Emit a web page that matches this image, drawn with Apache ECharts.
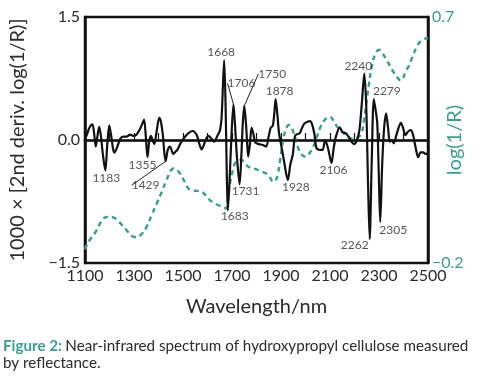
<!DOCTYPE html>
<html>
<head>
<meta charset="utf-8">
<script src="https://cdn.jsdelivr.net/npm/echarts@6/dist/echarts.min.js"></script>
<style>
html,body{margin:0;padding:0;background:#fff;}
#chart{width:482px;height:377px;}
</style>
</head>
<body>
<div id="chart"></div>
<script>
// ---- data ----
const derivWl = [1100,1107,1118,1130,1138,1144,1151,1158,1165,1172,1183,1191,1199,1207,1214,1220,1232,1245,1258,1270,1284,1296,1308,1322,1334,1341,1348,1355,1362,1369,1376,1383,1392,1403,1410,1417,1429,1438,1447,1453,1460,1470,1477,1490,1508,1525,1540,1556,1566,1576,1590,1603,1615,1627,1640,1651,1658,1668,1674,1678,1683,1690,1697,1706,1712,1720,1731,1738,1744,1750,1757,1762,1766,1773,1780,1787,1795,1810,1825,1839,1850,1858,1866,1872,1878,1884,1892,1900,1912,1928,1938,1948,1957,1965,1976,1986,1995,2006,2018,2026,2036,2045,2058,2070,2080,2092,2106,2115,2125,2140,2150,2165,2178,2190,2198,2210,2220,2230,2240,2248,2255,2262,2270,2279,2287,2293,2299,2305,2313,2321,2329,2337,2344,2352,2360,2370,2380,2389,2398,2408,2418,2430,2440,2450,2460,2470,2480,2490,2500];
const derivVal = [0.02,0.06,0.15,0.19,0.06,-0.08,0.05,0.16,0.05,-0.15,-0.37,-0.05,0.18,0.05,-0.1,-0.155,-0.08,0.02,0.04,0.04,0.065,0.05,0.06,0.12,0.2,0.25,0.05,-0.21,-0.02,0.05,0.0,-0.05,0.1,0.27,0.22,0.08,-0.26,-0.12,-0.08,-0.12,-0.17,-0.14,-0.12,-0.04,0.04,0.09,0.11,0.06,-0.04,-0.115,-0.02,0.05,0.02,-0.02,0.05,0.12,0.3,0.975,0.4,-0.3,-0.86,-0.5,0.0,0.435,0.2,-0.2,-0.54,-0.2,0.2,0.415,0.2,-0.05,-0.2,-0.05,0.15,0.08,-0.03,-0.05,-0.06,-0.08,0.05,0.15,0.17,0.3,0.5,0.35,0.08,-0.05,-0.25,-0.49,-0.3,-0.18,0.05,0.07,0.08,0.15,0.2,0.22,0.23,0.2,0.08,-0.1,-0.12,-0.12,0.0,-0.1,-0.28,-0.1,0.05,0.155,0.1,0.08,0.03,-0.03,-0.05,0.0,0.12,0.45,0.81,0.4,-0.5,-1.21,-0.3,0.5,0.35,0.2,-0.4,-1.0,-0.3,0.15,0.325,0.15,-0.02,0.0,-0.04,0.05,0.15,0.21,0.15,0.06,0.1,0.12,0.05,-0.1,-0.21,-0.15,-0.15,-0.17,-0.17];

const logWl = [1100,1104,1120,1141,1165,1185,1200,1215,1229,1250,1270,1290,1311,1330,1352,1372,1393,1413,1433,1450,1460,1475,1488,1505,1522,1542,1560,1576,1595,1610,1630,1651,1665,1676,1684,1692,1702,1712,1725,1740,1752,1767,1790,1814,1832,1848,1860,1866,1876,1886,1897,1909,1920,1932,1940,1950,1961,1975,1990,2000,2015,2032,2046,2059,2075,2090,2100,2115,2128,2141,2158,2175,2192,2205,2218,2229,2240,2250,2260,2270,2285,2300,2312,2331,2345,2358,2372,2388,2398,2408,2420,2435,2454,2468,2481,2495,2500];
const logVal = [-0.15,-0.14,-0.115,-0.09,-0.05,-0.032,-0.031,-0.033,-0.04,-0.06,-0.08,-0.1,-0.106,-0.095,-0.067,-0.025,0.018,0.06,0.104,0.138,0.146,0.14,0.128,0.1,0.073,0.065,0.064,0.061,0.045,0.03,0.018,0.009,0.003,0.0,0.04,0.092,0.135,0.165,0.175,0.177,0.165,0.152,0.145,0.138,0.13,0.122,0.105,0.097,0.1,0.12,0.18,0.25,0.29,0.305,0.3,0.28,0.25,0.21,0.192,0.189,0.2,0.226,0.26,0.293,0.32,0.333,0.335,0.32,0.3,0.287,0.272,0.26,0.255,0.256,0.262,0.275,0.33,0.396,0.46,0.518,0.565,0.58,0.57,0.543,0.52,0.5,0.482,0.468,0.475,0.5,0.518,0.55,0.591,0.61,0.618,0.622,0.622];

const peakLabels = [1183,1355,1429,1668,1683,1706,1731,1750,1878,1928,2106,2240,2262,2279,2305];
const leaderLabels = [1429,1706,1750];

const xTicks = [1100,1300,1500,1700,1900,2100,2300,2500];
const leftTicks = [-1.5,0.0,1.5];
const rightTicks = [-0.2,0.7];

// ---- layout (label offsets in px, not data) ----
const labelOffsets = {
  1183:[1,8],1355:[-5,8],1429:[-20,24],1668:[-3,-8],1683:[7,6],1706:[8,-21],
  1731:[6,7],1750:[28,-32],1878:[4,-8],1928:[8,7],2106:[2,7],2240:[-6,-7],
  2262:[-15,6],2279:[13,-8],2305:[13,8]
};

const TEAL = '#3a9e8f';
const TEXT = '#2b2b2b';
const FONT = 'Lato';

const derivData = derivWl.map((w,i)=>[w,derivVal[i]]);
const logData = logWl.map((w,i)=>[w,logVal[i]]);
const annotData = peakLabels.map(w=>{
  const i = derivWl.indexOf(w);
  const item = {value:[w, derivVal[i]]};
  if (leaderLabels.includes(w)) item.labelLine = {show:true};
  return item;
});

function fmtNum(v){
  const s = (Math.round(v*10)/10).toFixed(1);
  return s.startsWith('-') ? '\u2212' + s.slice(1) : s;
}

const chart = echarts.init(document.getElementById('chart'));
chart.setOption({
  animation:false,
  backgroundColor:'#fff',
  textStyle:{fontFamily:FONT},
  grid:{left:85,right:54,top:17,bottom:114,outerBoundsMode:'none',show:true,borderColor:'#111',borderWidth:2.5,backgroundColor:'transparent'},
  xAxis:{
    type:'value',min:1100,max:2500,interval:100,
    name:'Wavelength/nm',nameLocation:'middle',nameGap:34,
    nameTextStyle:{fontSize:20,color:TEXT,fontFamily:FONT},
    axisLine:{show:true,lineStyle:{color:'#111',width:2.5}},
    axisTick:{show:true,inside:true,length:7,lineStyle:{color:'#111',width:1.2}},
    axisLabel:{fontSize:16,color:TEXT,fontFamily:FONT,margin:5,
      formatter:v=> xTicks.includes(v) ? String(v) : ''},
    splitLine:{show:false}
  },
  yAxis:[{
    type:'value',min:-1.5,max:1.5,interval:1.5,position:'left',
    name:'1000 \u00d7 [2nd deriv. log(1/R)]',nameLocation:'middle',nameGap:57,nameMoveOverlap:false,
    nameTextStyle:{fontSize:20,color:TEXT,fontFamily:FONT},
    axisLine:{show:true,lineStyle:{color:'#111',width:2.5}},
    axisTick:{show:false},
    axisLabel:{fontSize:16,color:TEXT,fontFamily:FONT,margin:5,
      formatter:v=> leftTicks.some(t=>Math.abs(t-v)<1e-6) ? fmtNum(v) : ''},
    splitLine:{show:false}
  },{
    type:'value',min:-0.2,max:0.7,interval:0.9,position:'right',
    name:'log(1/R)',nameLocation:'middle',nameGap:17,nameRotate:90,nameMoveOverlap:false,
    nameTextStyle:{fontSize:20,color:TEAL,fontFamily:FONT},
    axisLine:{show:true,lineStyle:{color:'#111',width:2.5}},
    axisTick:{show:false},
    axisLabel:{fontSize:16,color:TEAL,fontFamily:FONT,margin:4,
      formatter:v=> rightTicks.some(t=>Math.abs(t-v)<1e-6) ? fmtNum(v) : ''},
    splitLine:{show:false}
  }],
  series:[{
    type:'line',yAxisIndex:1,data:logData,showSymbol:false,smooth:0.4,
    lineStyle:{color:TEAL,width:2.4,type:[5,4]},z:2
  },{
    type:'line',yAxisIndex:0,data:derivData,showSymbol:false,smooth:0.3,
    lineStyle:{color:'#111',width:2.2},z:3,
    markLine:{silent:true,symbol:'none',label:{show:false},
      lineStyle:{color:'#111',width:1.3,type:'solid'},data:[{yAxis:0}]}
  },{
    type:'scatter',yAxisIndex:0,data:annotData,symbolSize:0,z:4,
    label:{show:true,position:'inside',fontSize:12,color:TEXT,fontFamily:FONT,
      formatter:p=>String(p.value[0])},
    labelLine:{show:false,lineStyle:{color:'#222',width:1}},
    labelLayout:p=>{
      const w = peakLabels[p.dataIndex];
      const o = labelOffsets[w];
      return {dx:o[0],dy:o[1]};
    }
  }],
  graphic:[{
    type:'text',left:3,top:338,
    style:{
      text:'{b|Figure 2:} {n|Near-infrared spectrum of hydroxypropyl cellulose measured}\n{n|by reflectance.}',
      lineHeight:17,
      rich:{
        b:{fontSize:15.2,fontWeight:'bold',fill:TEAL,fontFamily:FONT,lineHeight:17},
        n:{fontSize:15.2,fill:TEXT,fontFamily:FONT,lineHeight:17}
      }
    }
  }]
});
</script>
</body>
</html>
